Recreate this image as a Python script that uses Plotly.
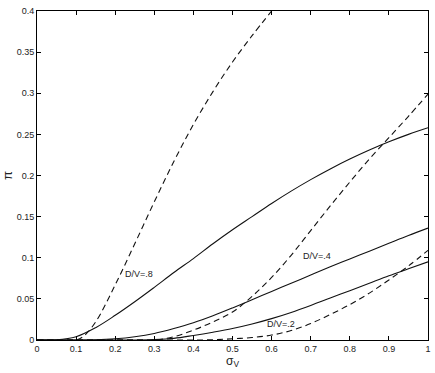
import plotly.graph_objects as go

# x grid (sigma_V)
x_grid = [0.0, 0.05, 0.1, 0.15, 0.2, 0.25, 0.3, 0.35, 0.4, 0.45, 0.5,
          0.55, 0.6, 0.65, 0.7, 0.75, 0.8, 0.85, 0.9, 0.95, 1.0]

# solid curves
solid_08 = [0.0, 0.0002, 0.004, 0.015, 0.03, 0.0465, 0.064, 0.082, 0.099, 0.117, 0.134,
            0.150, 0.166, 0.181, 0.195, 0.208, 0.220, 0.231, 0.241, 0.250, 0.258]
solid_04 = [0.0, 0.0, 0.0, 0.0003, 0.0015, 0.004, 0.008, 0.014, 0.021, 0.0295, 0.039,
            0.049, 0.059, 0.069, 0.079, 0.089, 0.0985, 0.108, 0.1175, 0.127, 0.136]
solid_02 = [0.0, 0.0, 0.0, 0.0, 0.0, 0.0, 0.0005, 0.002, 0.0055, 0.0095, 0.014,
            0.0195, 0.026, 0.0335, 0.042, 0.051, 0.060, 0.069, 0.078, 0.0865, 0.095]

# dashed curves
dash_08_x = [0.0, 0.05, 0.1, 0.12, 0.15, 0.2, 0.25, 0.3, 0.35, 0.4, 0.45, 0.5, 0.55, 0.6]
dash_08 = [0.0, 0.0, 0.0, 0.005, 0.022, 0.067, 0.117, 0.168, 0.217, 0.262, 0.302, 0.338, 0.37, 0.4]
dash_04 = [0.0, 0.0, 0.0, 0.0, 0.0, 0.0, 0.0, 0.004, 0.012, 0.022, 0.034,
           0.053, 0.076, 0.103, 0.133, 0.163, 0.192, 0.22, 0.246, 0.272, 0.299]
dash_02 = [0.0, 0.0, 0.0, 0.0, 0.0, 0.0, 0.0, 0.0, 0.0, 0.0003, 0.0015,
           0.003, 0.006, 0.0115, 0.02, 0.031, 0.043, 0.057, 0.073, 0.09, 0.109]

labels = ["D/V=.8", "D/V=.4", "D/V=.2"]
label_x = [0.26, 0.715, 0.625]
label_y = [0.08, 0.102, 0.019]

x_ticks = [0, 0.1, 0.2, 0.3, 0.4, 0.5, 0.6, 0.7, 0.8, 0.9, 1]
x_ticktext = ["0", "0.1", "0.2", "0.3", "0.4", "0.5", "0.6", "0.7", "0.8", "0.9", "1"]
y_ticks = [0, 0.05, 0.1, 0.15, 0.2, 0.25, 0.3, 0.35, 0.4]
y_ticktext = ["0", "0.05", "0.1", "0.15", "0.2", "0.25", "0.3", "0.35", "0.4"]

FONT = "Liberation Sans, Arial, sans-serif"

fig = go.Figure()
solid_line = dict(color="#111111", width=1.1, shape="spline", smoothing=1.0)
dash_line = dict(color="#111111", width=1.1, dash="6px,4px", shape="spline", smoothing=1.0)

for ys in [solid_08, solid_04, solid_02]:
    fig.add_trace(go.Scatter(x=x_grid, y=ys, mode="lines", line=solid_line, showlegend=False))
fig.add_trace(go.Scatter(x=dash_08_x, y=dash_08, mode="lines", line=dash_line, showlegend=False))
for ys in [dash_04, dash_02]:
    fig.add_trace(go.Scatter(x=x_grid, y=ys, mode="lines", line=dash_line, showlegend=False))

for t, lx, ly in zip(labels, label_x, label_y):
    fig.add_annotation(x=lx, y=ly, text=t, showarrow=False,
                       font=dict(family=FONT, size=9, color="#222222"))

axis_common = dict(showline=True, linecolor="black", linewidth=1, mirror="ticks",
                   ticks="inside", ticklen=4, tickcolor="black", tickwidth=1,
                   showgrid=False, zeroline=False, automargin=False,
                   tickfont=dict(family=FONT, size=9, color="#222222"))

fig.update_xaxes(range=[0, 1], tickvals=x_ticks, ticktext=x_ticktext,
                 title=dict(text="σ<sub>V</sub>", standoff=2,
                            font=dict(family=FONT, size=12, color="#222222")),
                 **axis_common)
fig.update_yaxes(range=[0, 0.4], tickvals=y_ticks, ticktext=y_ticktext,
                 title=dict(text="π", standoff=8,
                            font=dict(family=FONT, size=13, color="#222222")),
                 **axis_common)

fig.update_layout(width=435, height=373, margin=dict(l=37, r=7, t=11, b=33),
                  plot_bgcolor="white", paper_bgcolor="white")

fig.write_html("out.html")
